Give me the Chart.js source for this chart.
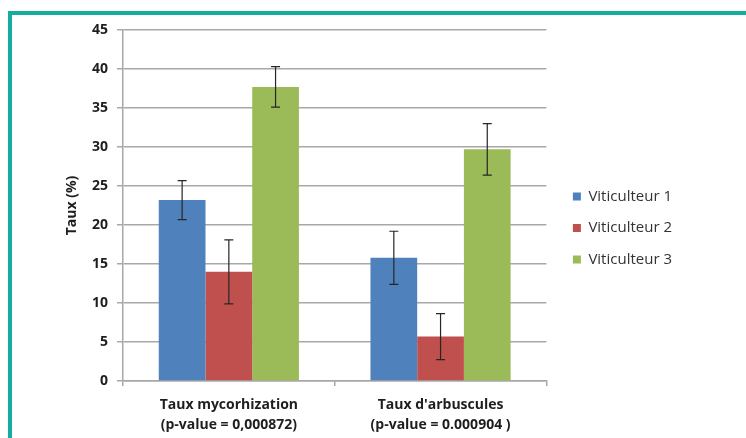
<!DOCTYPE html>
<html lang="fr">
<head>
<meta charset="utf-8">
<title>Taux de mycorhization par viticulteur</title>
<script src="https://cdn.jsdelivr.net/npm/chart.js@4.4.1/dist/chart.umd.min.js"></script>
<style>
    html, body {
        margin: 0;
        padding: 0;
        width: 746px;
        height: 438px;
        overflow: hidden;
        background: #ffffff;
    }
    .frame {
        position: absolute;
        left: 8px;
        top: 11px;
        width: 800px;
        height: 500px;
        border: 4px solid #14ad9f;
    }
    .chart-box {
        position: absolute;
        left: 0;
        top: 0;
        width: 746px;
        height: 438px;
    }
</style>
</head>
<body>
<div class="frame"></div>
<div class="chart-box">
    <canvas id="tauxChart" width="746" height="438"></canvas>
</div>
<script>
// --- Data ---
const categories = [
    ['Taux mycorhization', '(p-value = 0,000872)'],
    ["Taux d'arbuscules", '(p-value = 0.000904 )']
];
const seriesNames = ['Viticulteur 1', 'Viticulteur 2', 'Viticulteur 3'];
const viticulteur1 = [23.2, 15.8];
const viticulteur2 = [14.0, 5.7];
const viticulteur3 = [37.7, 29.7];
// standard errors shown as error bars
const erreur1 = [2.5, 3.4];
const erreur2 = [4.1, 2.95];
const erreur3 = [2.6, 3.3];
const yTicks = [0, 5, 10, 15, 20, 25, 30, 35, 40, 45];

const seriesColors = ['#4f81bd', '#c0504d', '#9bbb59'];
const gridColor = '#a8a8a8';
const textColor = '#1e1e1e';

// --- Error bars plugin ---
const errorBars = {
    id: 'errorBars',
    afterDatasetsDraw(chart) {
        const ctx = chart.ctx;
        const yScale = chart.scales.y;
        ctx.save();
        ctx.strokeStyle = '#262626';
        ctx.lineWidth = 1.2;
        chart.data.datasets.forEach((ds, i) => {
            const meta = chart.getDatasetMeta(i);
            meta.data.forEach((bar, j) => {
                const v = ds.data[j];
                const e = ds.errors[j];
                const yTop = yScale.getPixelForValue(v + e);
                const yBot = yScale.getPixelForValue(v - e);
                const cap = 4.5;
                ctx.beginPath();
                ctx.moveTo(bar.x, yTop);
                ctx.lineTo(bar.x, yBot);
                ctx.moveTo(bar.x - cap, yTop);
                ctx.lineTo(bar.x + cap, yTop);
                ctx.moveTo(bar.x - cap, yBot);
                ctx.lineTo(bar.x + cap, yBot);
                ctx.stroke();
            });
        });
        ctx.restore();
    }
};

// nudge the legend a little away from the plot
const legendOffset = {
    id: 'legendOffset',
    afterLayout(chart) {
        chart.legend.left += 10;
        chart.legend.right += 10;
        chart.legend.top -= 6;
        chart.legend.bottom -= 6;
    }
};

// --- Chart ---
const makeDataset = (label, values, errors, color) => ({
    label: label,
    data: values,
    errors: errors,
    backgroundColor: color,
    borderWidth: 0,
    categoryPercentage: 0.662,
    barPercentage: 1.0
});

new Chart(document.getElementById('tauxChart'), {
    type: 'bar',
    data: {
        labels: categories,
        datasets: [
            makeDataset(seriesNames[0], viticulteur1, erreur1, seriesColors[0]),
            makeDataset(seriesNames[1], viticulteur2, erreur2, seriesColors[1]),
            makeDataset(seriesNames[2], viticulteur3, erreur3, seriesColors[2])
        ]
    },
    options: {
        responsive: false,
        animation: false,
        devicePixelRatio: 1,
        layout: {
            padding: { top: 30, right: 74, bottom: 0, left: 60 }
        },
        plugins: {
            legend: {
                position: 'right',
                align: 'center',
                labels: {
                    boxWidth: 8,
                    boxHeight: 8,
                    padding: 16.5,
                    color: '#333333',
                    font: { family: 'Open Sans', size: 15 }
                }
            },
            tooltip: { enabled: false }
        },
        scales: {
            x: {
                afterFit: (scale) => { scale.height = 57; },
                grid: {
                    display: true,
                    drawOnChartArea: false,
                    drawTicks: true,
                    tickLength: 5,
                    color: gridColor,
                    lineWidth: 1.5
                },
                border: { display: true, color: gridColor, width: 1.5 },
                ticks: {
                    padding: 9,
                    color: textColor,
                    font: { family: 'Open Sans', size: 14, weight: 'bold', lineHeight: 1.43 }
                }
            },
            y: {
                min: 0,
                max: 45,
                afterFit: (scale) => { scale.width = 63; },
                afterBuildTicks: (scale) => {
                    scale.ticks = yTicks.map(v => ({ value: v }));
                },
                grid: {
                    color: gridColor,
                    lineWidth: 1.5,
                    tickLength: 6
                },
                border: { display: true, color: gridColor, width: 1.5 },
                ticks: {
                    padding: 9,
                    color: textColor,
                    font: { family: 'Open Sans', size: 14, weight: 'bold' }
                },
                title: {
                    display: true,
                    text: 'Taux (%)',
                    color: textColor,
                    padding: { top: 4, bottom: 0 },
                    font: { family: 'Open Sans', size: 14, weight: 'bold' }
                }
            }
        }
    },
    plugins: [errorBars, legendOffset]
});
</script>
</body>
</html>
